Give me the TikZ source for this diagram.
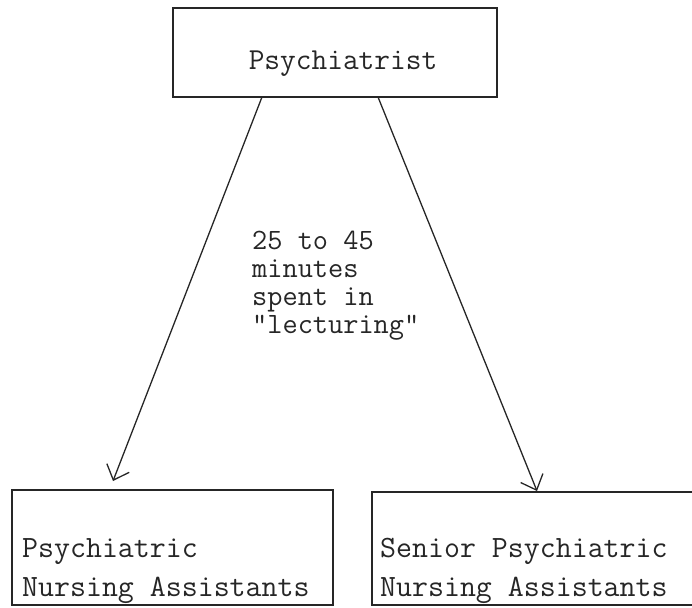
\documentclass[tikz,border=0pt]{standalone}
\usetikzlibrary{arrows.meta}
\begin{document}
\begin{tikzpicture}[x=1pt,y=-1pt,
  boxshape/.style={draw=black!85, line width=1.5pt, rectangle, inner sep=0pt},
  txt/.style={text=black!85, font=\ttfamily\fontsize{31}{31}\selectfont, inner sep=0pt},
  conn/.style={draw=black!85, line width=1.3pt, -{Straight Barb[length=13pt,width=24pt,line width=1.3pt]}}]
\useasboundingbox (0,0) rectangle (692,607);
% boxes
\node[boxshape, minimum width=324pt, minimum height=89pt] (top) at (335,52.5) {};
\node[boxshape, minimum width=321pt, minimum height=115pt] (leftbox) at (172.5,547.5) {};
\node[boxshape, minimum width=326pt, minimum height=113pt] (rightbox) at (535,548.5) {};
% texts
\node[txt, anchor=base, font=\ttfamily\fontsize{30.5}{31}\selectfont] (toptext) at (343,70) {Psychiatrist};
\node[txt, anchor=base west] (l1) at (22,557) {Psychiatric};
\node[txt, anchor=base west] (l2) at (22,596) {Nursing Assistants};
\node[txt, anchor=base west] (r1) at (380,557) {Senior Psychiatric};
\node[txt, anchor=base west] (r2) at (380,596) {Nursing Assistants};
\node[txt, anchor=north west, align=left, font=\ttfamily\fontsize{29.5}{28}\selectfont] (mid) at (252,231)
  {25 to 45\\minutes\\spent in\\"lecturing"};
% connectors
\coordinate (s1) at (262,97);
\coordinate (e1) at (113,481);
\coordinate (s2) at (378,97);
\coordinate (e2) at (537,491);
\draw[conn] (s1) -- (e1);
\draw[conn] (s2) -- (e2);
\end{tikzpicture}
\end{document}
